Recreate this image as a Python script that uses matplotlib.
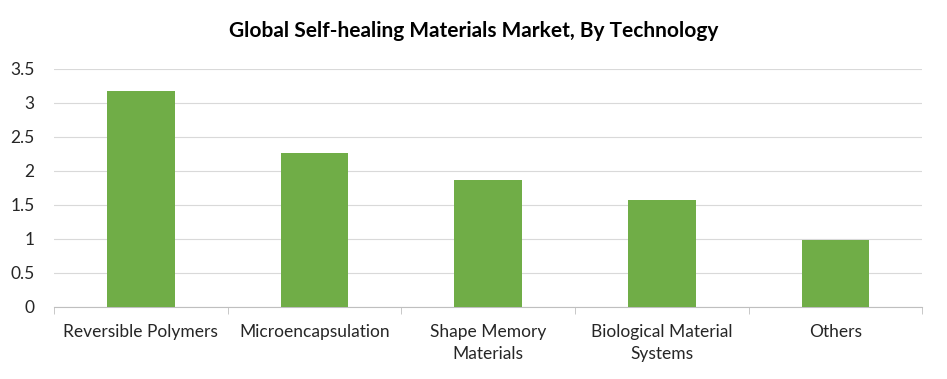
"""Global self-healing materials market by technology, bar chart."""

import matplotlib
matplotlib.use("Agg")
from matplotlib import pyplot as plt
import numpy as np

categories = ["Reversible Polymers", "Microencapsulation", "Shape Memory\nMaterials",
              "Biological Material\nSystems", "Others"]
values = [3.18, 2.27, 1.87, 1.58, 0.98]
y_ticks = [0, 0.5, 1, 1.5, 2, 2.5, 3, 3.5]
y_tick_labels = ["0", "0.5", "1", "1.5", "2", "2.5", "3", "3.5"]

plt.rcParams["font.family"] = ["Lato", "DejaVu Sans"]

fig = plt.figure(figsize=(9.47, 3.79), dpi=100)
ax = fig.add_axes([0.057, 0.19, 0.917, 0.628])

x = np.arange(len(categories))
ax.bar(x, values, width=0.39, color="#70AD47", zorder=3)

ax.set_xlim(-0.5, len(categories) - 0.5)
ax.set_ylim(0, 3.5)
ax.set_yticks(y_ticks)
ax.set_yticklabels(y_tick_labels, fontsize=12.5, color="#262626")
ax.grid(axis="y", color="#D9D9D9", linewidth=0.8, zorder=0)

# category labels, ticks on the boundaries
ax.set_xticks(x)
ax.set_xticklabels(categories, fontsize=12.5, color="#262626", linespacing=1.45)
ax.tick_params(axis="x", length=0, pad=12)
ax.tick_params(axis="y", length=0, pad=14)
ax.set_xticks(np.arange(-0.5, len(categories)), minor=True)
ax.tick_params(axis="x", which="minor", length=5, color="#BFBFBF")

for side in ["top", "right", "left"]:
    ax.spines[side].set_visible(False)
ax.spines["bottom"].set_color("#BFBFBF")

fig.suptitle("Global Self-healing Materials Market, By Technology",
             fontsize=15, fontweight="bold", x=0.5, y=0.945)

fig.savefig("out.png", dpi=100)
